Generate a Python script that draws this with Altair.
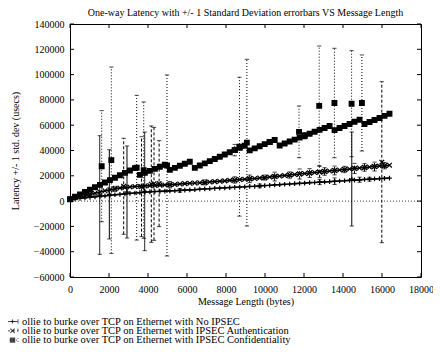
import altair as alt
import pandas as pd

# ---------------- data ----------------
SERIES = [
    "ollie to burke over TCP on Ethernet with No IPSEC",
    "ollie to burke over TCP on Ethernet with IPSEC Authentication",
    "ollie to burke over TCP on Ethernet with IPSEC Confidentiality",
]

lengths = list(range(0, 16385, 256))

no_ipsec = [1500, 1800, 2200, 2600, 3000, 3400, 3800, 4200, 4600, 5000,
            5300, 5700, 6100, 6400, 6700, 7000, 7300, 7600, 7700, 7900,
            8100, 8200, 8500, 8700, 8900, 9100, 9400, 9600, 9800, 10100,
            10300, 10500, 10700, 10900, 11100, 11300, 11600, 11700, 12000, 12300,
            12500, 12800, 13000, 13300, 13500, 13800, 14000, 14200, 14600, 14700,
            15000, 15200, 15400, 15700, 15900, 16100, 16400, 16600, 16800, 17100,
            17300, 17500, 17800, 18000, 18200]

auth = [1800, 2600, 3400, 4300, 5200, 6200, 7200, 8200, 9000, 9700,
        10300, 10800, 11200, 11500, 11700, 12000, 12200, 12400, 12600, 12800,
        13000, 13200, 13500, 13800, 14100, 14300, 14500, 14800, 15100, 15400,
        15700, 16000, 16400, 16700, 17000, 17300, 17600, 17900, 18300, 18600,
        19000, 19400, 19800, 20200, 20600, 21000, 21400, 21800, 22200, 22600,
        23000, 23400, 23800, 24200, 24600, 25000, 25400, 25800, 26200, 26600,
        26900, 27300, 27700, 28000, 28400]

conf = [1500, 3400, 5300, 7200, 9100, 11000, 12800, 14700, 16600, 18500,
        20400, 22300, 24200, 26100, 20700, 22300, 23900, 25500, 27100, 28700,
        24700, 26300, 27900, 29500, 31100, 26300, 28100, 29800, 31600, 33300,
        35100, 36800, 38600, 40300, 42100, 43800, 40100, 41700, 43400, 45000,
        46700, 48300, 44000, 45500, 47100, 48600, 50200, 51700, 53200, 54800,
        56300, 57800, 59400, 56100, 57800, 59400, 61000, 62700, 64300, 60900,
        62500, 64100, 65700, 67400, 69000]

# error bars: x, mean, std (one set per series)
s1_eb_x = [1523, 2017, 2923, 3830, 14450, 5632, 9728, 12800, 13568, 14848, 15360]
s1_eb_mean = [4800, 5330, 7200, 7700, 17450, 8500, 12000, 15000, 15700, 16900, 17300]
s1_eb_std = [46900, 35300, 36400, 46900, 37150, 1500, 1500, 2000, 2600, 2000, 1500]

s2_eb_x = [2753, 3668, 4170, 4308, 4570, 15990, 1024, 2304, 5120, 6912, 8448, 9216,
           9984, 10496, 11264, 11776, 12288, 12800, 13056, 13568, 14080, 14592,
           15104, 15616, 16128]
s2_eb_mean = [11700, 11400, 13400, 13650, 13800, 30750, 5200, 9700, 13000, 14800,
              16700, 17600, 18600, 19400, 20600, 21400, 22200, 23000, 23400, 24200,
              25000, 25800, 26600, 27300, 28000]
s2_eb_std = [37950, 39500, 46000, 44650, 34000, 63650, 1500, 2000, 2500, 2000, 2500,
             3000, 2000, 3500, 2500, 4000, 3500, 4500, 3000, 3500, 2500, 4000, 3000,
             3500, 2500]

s3_eb_x = [1625, 2120, 3420, 3780, 4974, 8690, 9070, 11745, 12780, 13560, 14440,
           14970, 8448, 10240, 12032]
s3_eb_mean = [27600, 32350, 26400, 24500, 28150, 43000, 46200, 54750, 75300, 77550,
              77000, 77550, 40300, 46700, 51700]
s3_eb_std = [43900, 73650, 57200, 53900, 71550, 54900, 65900, 20450, 47300, 43250,
             41900, 37950, 4500, 2000, 2500]

x_ticks = [0, 2000, 4000, 6000, 8000, 10000, 12000, 14000, 16000, 18000]
y_ticks = [-60000, -40000, -20000, 0, 20000, 40000, 60000, 80000, 100000, 120000, 140000]

TITLE = "One-way Latency with +/- 1 Standard Deviation errorbars VS Message Length"
X_TITLE = "Message Length (bytes)"
Y_TITLE = "Latency +/- 1 std. dev (usecs)"

# ---------------- tables ----------------
pt_rows = []
line_rows = []
for name, vals in zip(SERIES, [no_ipsec, auth, conf]):
    seg = 0
    prev = None
    for x, v in zip(lengths, vals):
        if prev is not None and v < prev - 2000:
            seg += 1
        prev = v
        pt_rows.append({"series": name, "x": x, "y": v})
        line_rows.append({"series": name, "seg": f"{name}-{seg}", "x": x, "y": v})

eb_rows = []
for name, xs, ms, ss in zip(SERIES,
                            [s1_eb_x, s2_eb_x, s3_eb_x],
                            [s1_eb_mean, s2_eb_mean, s3_eb_mean],
                            [s1_eb_std, s2_eb_std, s3_eb_std]):
    for x, m, s in zip(xs, ms, ss):
        eb_rows.append({"series": name, "x": x, "mean": m, "lo": m - s, "hi": m + s})
        pt_rows.append({"series": name, "x": x, "y": m})

pts = pd.DataFrame(pt_rows)
lines = pd.DataFrame(line_rows)
ebs = pd.DataFrame(eb_rows)

W, H = 351, 253
FONT = "Liberation Serif"

xscale = alt.Scale(domain=[0, 18000], nice=False, zero=False)
yscale = alt.Scale(domain=[-60000, 140000], nice=False, zero=False)
xaxis = alt.Axis(title=X_TITLE, values=x_ticks, format="d", labelPadding=7, titlePadding=2,
                 labelFlush=False, labelOverlap=False)
yaxis = alt.Axis(title=Y_TITLE, values=y_ticks, format="d", labelPadding=6, titlePadding=13,
                 labelFlush=False, labelOverlap=False)

SHAPES = [
    "M-1,0L1,0M0,-1L0,1",
    "M-1,-1L1,1M-1,1L1,-1",
    "M-1,-1L1,-1L1,1L-1,1ZM-0.6,-0.6L0.6,-0.6L0.6,0.6L-0.6,0.6ZM-0.2,-0.2L0.2,-0.2L0.2,0.2L-0.2,0.2Z",
]
shape_scale = alt.Scale(domain=SERIES, range=SHAPES)
dashes = [[1, 0], [3, 2], [1, 2]]
line_widths = [1.6, 1.6, 3.2]

X = alt.X("x:Q", scale=xscale, axis=xaxis)

zero_line = alt.Chart(pd.DataFrame({"z": [0]})).mark_rule(
    color="#444", strokeDash=[1, 2], strokeWidth=1
).encode(y=alt.Y("z:Q", scale=yscale, axis=yaxis))

layers = [zero_line]
for name, dash, lw in zip(SERIES, dashes, line_widths):
    layers.append(
        alt.Chart(lines).transform_filter(alt.datum.series == name).mark_line(
            color="black", strokeWidth=lw
        ).encode(x=X, y=alt.Y("y:Q", scale=yscale, axis=yaxis), detail="seg:N")
    )
    layers.append(
        alt.Chart(ebs).transform_filter(alt.datum.series == name).mark_rule(
            color="black", strokeWidth=1, strokeDash=dash
        ).encode(x=X, y=alt.Y("lo:Q", scale=yscale, axis=yaxis), y2="hi:Q")
    )

caps = alt.Chart(ebs).transform_fold(["lo", "hi"], as_=["end", "val"]).mark_point(
    shape="stroke", size=18, strokeWidth=1, color="black", filled=False
).encode(x=X, y=alt.Y("val:Q", scale=yscale, axis=yaxis))

points = alt.Chart(pts).mark_point(
    filled=False, color="black", strokeWidth=1.2, size=22, opacity=1
).encode(
    x=X,
    y=alt.Y("y:Q", scale=yscale, axis=yaxis),
    shape=alt.Shape("series:N", scale=shape_scale, legend=None),
)

tick_df_x = pd.DataFrame({"t": x_ticks})
tick_df_y = pd.DataFrame({"t": y_ticks})
tx_bottom = alt.Chart(tick_df_x).mark_rule(color="black").encode(
    x=alt.X("t:Q", scale=xscale, axis=xaxis), y=alt.value(H), y2=alt.value(H - 4))
tx_top = alt.Chart(tick_df_x).mark_rule(color="black").encode(
    x=alt.X("t:Q", scale=xscale, axis=xaxis), y=alt.value(0), y2=alt.value(4))
ty_left = alt.Chart(tick_df_y).mark_rule(color="black").encode(
    y=alt.Y("t:Q", scale=yscale, axis=yaxis), x=alt.value(0), x2=alt.value(4))
ty_right = alt.Chart(tick_df_y).mark_rule(color="black").encode(
    y=alt.Y("t:Q", scale=yscale, axis=yaxis), x=alt.value(W), x2=alt.value(W - 4))

layers += [caps, points, tx_bottom, tx_top, ty_left, ty_right]

# ---------------- key (gnuplot style, below the plot) ----------------
KEY_TOP = 297.5    # px below plot top for first entry
KEY_STEP = 9.3     # px between entries
for i, (name, shape, dash) in enumerate(zip(SERIES, SHAPES, dashes)):
    ky = KEY_TOP + i * KEY_STEP
    kdf = pd.DataFrame({"label": [name]})
    # sample: short errorbar-style line with end caps
    layers.append(alt.Chart(kdf).mark_point(
        shape="M-1,-0.4L-1,0.4M1,-0.4L1,0.4M-1,0L1,0", size=121, filled=False,
        color="black", strokeWidth=1, strokeDash=dash
    ).encode(x=alt.value(-57.5), y=alt.value(ky)))
    layers.append(alt.Chart(kdf).mark_point(
        shape=shape, size=18, filled=False, color="black", strokeWidth=1.2
    ).encode(x=alt.value(-57.5), y=alt.value(ky)))
    layers.append(alt.Chart(kdf).mark_text(
        align="left", baseline="middle", font=FONT, fontSize=10.5, color="black"
    ).encode(x=alt.value(-48), y=alt.value(ky), text="label:N"))

chart = alt.layer(*layers).properties(
    width=W, height=H,
    title=alt.TitleParams(TITLE, font=FONT, fontSize=10, fontWeight="normal", color="black",
                          anchor="middle", offset=1),
    autosize=alt.AutoSizeParams(type="none"),
    padding={"left": 62, "top": 16, "right": 12, "bottom": 70},
).configure_view(
    stroke="black", strokeWidth=1
).configure_axis(
    labelFont=FONT, titleFont=FONT, labelFontSize=10, titleFontSize=10,
    titleFontWeight="normal", labelColor="black", titleColor="black",
    grid=False, ticks=False, domain=False,
)

chart.save("out.html", embed_options={"renderer": "svg", "actions": False})
